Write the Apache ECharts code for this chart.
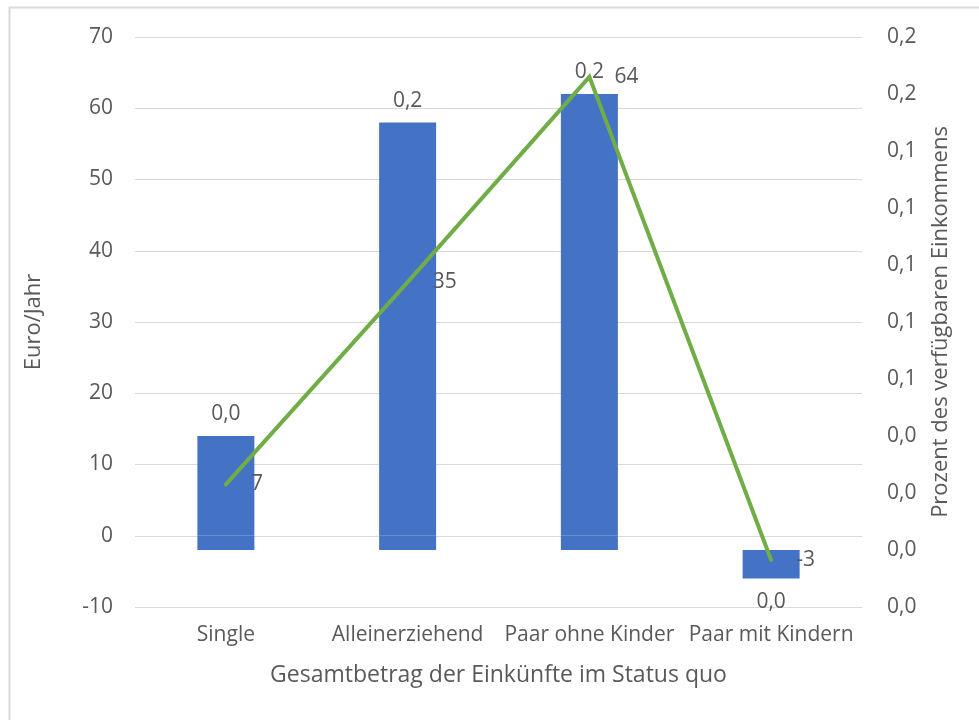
<!DOCTYPE html>
<html>
<head>
<meta charset="utf-8">
<script src="https://cdn.jsdelivr.net/npm/echarts@6/dist/echarts.min.js"></script>
<style>html,body{margin:0;padding:0;background:#fff}#c{width:979px;height:720px}</style>
</head>
<body>
<div id="c"></div>
<script>
const categories = ['Single', 'Alleinerziehend', 'Paar ohne Kinder', 'Paar mit Kindern'];
const barTop = [14, 58, 62, -6];          // Euro/Jahr, bar end
const barBase = [-2, -2, -2, -2];         // bar start
const barLabels = ['0,0', '0,2', '0,2', '0,0'];
const linePct = [0.023, 0.094, 0.166, -0.0035]; // Prozent (right axis)
const lineLabels = ['7', '35', '64', '-3'];
const leftTicks = { min: -10, max: 70, interval: 10 };
const rightTicks = { min: -0.02, max: 0.18, interval: 0.02 };

const FONT = 'Open Sans';
const TXT = '#595959';
const BLUE = '#4472C4';
const GREEN = '#70AD47';
const FS = 21;

const s0 = barTop.map((v, i) => v < 0 ? barBase[i] : null);
const s1 = barTop.map((v, i) => v < 0 ? { value: v - barBase[i], label: { show: true, position: 'bottom', distance: 13, formatter: barLabels[i] } } : barBase[i]);
const s2 = barTop.map((v, i) => v >= 0 ? { value: v, label: { show: true, position: 'top', distance: 11, formatter: barLabels[i] } } : null);

const chart = echarts.init(document.getElementById('c'), null, { renderer: 'canvas' });
chart.setOption({
  animation: false,
  backgroundColor: '#fff',
  textStyle: { fontFamily: FONT, color: TXT },
  graphic: [{
    type: 'rect', left: 7, top: 5, shape: { width: 1000, height: 800 },
    style: { fill: 'none', stroke: '#D9D9D9', lineWidth: 2 }, silent: true, z: -1
  }],
  grid: { left: 135, right: 117, top: 37, bottom: 113 },
  xAxis: {
    type: 'category', data: categories,
    name: 'Gesamtbetrag der Einkünfte im Status quo',
    nameLocation: 'middle', nameGap: 57,
    nameTextStyle: { fontSize: 23, color: TXT, fontFamily: FONT },
    axisLine: { show: false }, axisTick: { show: false },
    axisLabel: { fontSize: FS, color: TXT, margin: 18, fontFamily: FONT, interval: 0 }
  },
  yAxis: [{
    type: 'value', min: leftTicks.min, max: leftTicks.max, interval: leftTicks.interval,
    name: 'Euro/Jahr', nameLocation: 'middle', nameGap: 90,
    nameTextStyle: { fontSize: 22, color: TXT, fontFamily: FONT },
    axisLine: { show: false }, axisTick: { show: false },
    axisLabel: { fontSize: FS, color: TXT, margin: 22, fontFamily: FONT },
    splitLine: { lineStyle: { color: '#D9D9D9', width: 1 } }
  }, {
    type: 'value', min: rightTicks.min, max: rightTicks.max, interval: rightTicks.interval,
    name: 'Prozent des verfügbaren Einkommens', nameLocation: 'middle', nameGap: 68, nameRotate: 90,
    nameTextStyle: { fontSize: 22, color: TXT, fontFamily: FONT },
    axisLine: { show: false }, axisTick: { show: false },
    axisLabel: { fontSize: FS, color: TXT, margin: 25, fontFamily: FONT,
      formatter: v => Math.abs(v).toFixed(1).replace('.', ',') },
    splitLine: { show: false }
  }],
  series: [{
    type: 'bar', stack: 'b', data: s0, barWidth: 57,
    itemStyle: { color: 'transparent' }, silent: true
  }, {
    type: 'bar', stack: 'b', data: s1, barWidth: 57,
    itemStyle: { color: BLUE },
    label: { color: TXT, fontSize: FS, fontFamily: FONT }
  }, {
    type: 'bar', stack: 'b', data: s2, barWidth: 57,
    itemStyle: { color: BLUE },
    label: { color: TXT, fontSize: FS, fontFamily: FONT }
  }, {
    type: 'line', yAxisIndex: 1, data: linePct.map((v, i) => ({
      value: v,
      label: { formatter: lineLabels[i], offset: i === 1 ? [0, 9] : [0, 3] }
    })),
    symbol: 'circle', symbolSize: 2, showSymbol: true,
    itemStyle: { color: 'rgba(0,0,0,0)' },
    lineStyle: { color: GREEN, width: 4, cap: 'round', join: 'miter' },
    label: { show: true, position: 'right', distance: 24, color: TXT, fontSize: FS, fontFamily: FONT },
    labelLayout: { hideOverlap: false },
    z: 5
  }]
});
</script>
</body>
</html>
